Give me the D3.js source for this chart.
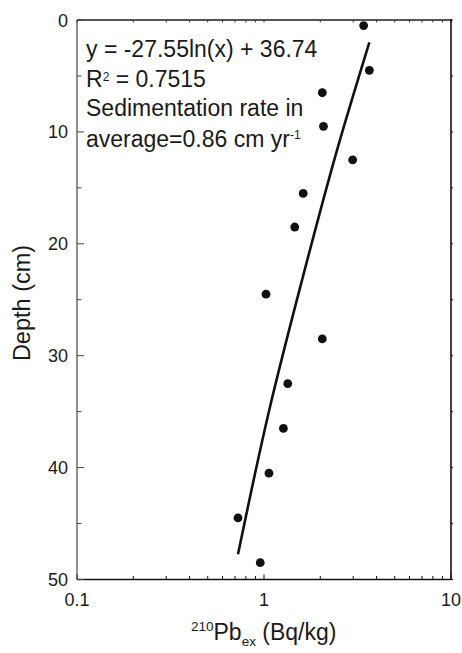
<!DOCTYPE html>
<html>
<head>
<meta charset="utf-8">
<script src="https://cdn.jsdelivr.net/npm/d3@7"></script>
<style>
	body { margin: 0; background: #fff; }
	svg text { font-family: "Liberation Sans", Arial, Helvetica, sans-serif; fill: #1a1a1a; }
</style>
</head>
<body>
<div id="chart"></div>
<script>
// 210Pb excess activity (Bq/kg) at each depth (cm)
var activity = [3.41, 3.66, 2.05, 2.08, 2.98, 1.62, 1.46, 1.025, 2.05, 1.34, 1.27, 1.063, 0.726, 0.955];
var depth    = [0.5, 4.5, 6.5, 9.5, 12.5, 15.5, 18.5, 24.5, 28.5, 32.5, 36.5, 40.5, 44.5, 48.5];

// fitted curve
var trendActivity = [3.66, 2.46, 1.60, 1.067, 0.726];
var trendDepth    = [2.0, 11.6, 23.2, 34.85, 47.75];

var xTickValues = [0.1, 1, 10];
var yTickValues = [0, 10, 20, 30, 40, 50];

var annotation = ["y = -27.55ln(x) + 36.74", "R", "Sedimentation rate in", "average=0.86 cm yr"];

(function() {
	var width = 462, height = 653;
	var left = 77, right = 451, top = 20, bottom = 579.5;

	var svg = d3.select('#chart').append('svg')
		.attr('width', width).attr('height', height);

	var x = d3.scaleLog().domain([0.1, 10]).range([left, right]);
	var y = d3.scaleLinear().domain([0, 50]).range([top, bottom]);

	// minor log ticks
	var logTicks = x.ticks();
	var minorDepth = d3.range(5, 50, 10);

	// bottom axis
	var gx = svg.append('g').attr('transform', 'translate(0,' + bottom + ')');
	gx.append('line').attr('x1', left).attr('x2', right).attr('stroke', '#111').attr('stroke-width', 1.3);
	gx.selectAll('line.t').data(logTicks).enter().append('line')
		.attr('class', 't')
		.attr('x1', function(d) { return x(d); })
		.attr('x2', function(d) { return x(d); })
		.attr('y1', 0)
		.attr('y2', function(d) { return xTickValues.indexOf(d) >= 0 ? -5 : -3.5; })
		.attr('stroke', '#111').attr('stroke-width', 1);
	gx.selectAll('text').data(xTickValues).enter().append('text')
		.attr('x', function(d) { return x(d); })
		.attr('y', 26)
		.attr('text-anchor', 'middle')
		.attr('font-size', 18)
		.text(function(d) { return d; });

	// top axis
	var gt = svg.append('g').attr('transform', 'translate(0,' + top + ')');
	gt.append('line').attr('x1', left).attr('x2', right).attr('stroke', '#555').attr('stroke-width', 1.8);
	gt.selectAll('line.t').data(logTicks).enter().append('line')
		.attr('class', 't')
		.attr('x1', function(d) { return x(d); })
		.attr('x2', function(d) { return x(d); })
		.attr('y1', 0).attr('y2', 2.5)
		.attr('stroke', '#333').attr('stroke-width', 1);

	// left axis
	var gy = svg.append('g').attr('transform', 'translate(' + left + ',0)');
	gy.append('line').attr('y1', top).attr('y2', bottom).attr('stroke', '#444').attr('stroke-width', 1.2);
	gy.selectAll('line.major').data(yTickValues).enter().append('line')
		.attr('class', 'major')
		.attr('x1', 0).attr('x2', 7)
		.attr('y1', function(d) { return y(d); })
		.attr('y2', function(d) { return y(d); })
		.attr('stroke', '#444').attr('stroke-width', 1);
	gy.selectAll('line.minor').data(minorDepth).enter().append('line')
		.attr('class', 'minor')
		.attr('x1', 0).attr('x2', 4.5)
		.attr('y1', function(d) { return y(d); })
		.attr('y2', function(d) { return y(d); })
		.attr('stroke', '#444').attr('stroke-width', 1);
	gy.selectAll('text').data(yTickValues).enter().append('text')
		.attr('x', -9)
		.attr('y', function(d) { return y(d) + 6.5; })
		.attr('text-anchor', 'end')
		.attr('font-size', 18)
		.text(function(d) { return d; });

	// right axis
	var gr = svg.append('g').attr('transform', 'translate(' + right + ',0)');
	gr.append('line').attr('y1', top - 1).attr('y2', bottom).attr('stroke', '#111').attr('stroke-width', 1.6);
	gr.selectAll('line.t').data(yTickValues.concat(minorDepth)).enter().append('line')
		.attr('class', 't')
		.attr('x1', 0).attr('x2', 2)
		.attr('y1', function(d) { return y(d); })
		.attr('y2', function(d) { return y(d); })
		.attr('stroke', '#111').attr('stroke-width', 1);

	// fitted curve
	var line = d3.line()
		.x(function(d, i) { return x(trendActivity[i]); })
		.y(function(d, i) { return y(trendDepth[i]); })
		.curve(d3.curveMonotoneY);
	svg.append('path')
		.attr('d', line(trendDepth))
		.attr('fill', 'none').attr('stroke', '#111').attr('stroke-width', 2.6);

	// measured points
	svg.selectAll('circle').data(depth).enter().append('circle')
		.attr('cx', function(d, i) { return x(activity[i]); })
		.attr('cy', function(d) { return y(d); })
		.attr('r', 4.4)
		.attr('fill', '#111');

	// annotation
	var ann = svg.append('g').attr('font-size', 23);
	ann.append('text').attr('x', 86).attr('y', 57).text(annotation[0]);
	var r2 = ann.append('text').attr('x', 86).attr('y', 87);
	r2.append('tspan').text(annotation[1]);
	r2.append('tspan').attr('font-size', 12).attr('dy', -6).text('2');
	r2.append('tspan').attr('dy', 6).text(' = 0.7515');
	ann.append('text').attr('x', 86).attr('y', 116).text(annotation[2]);
	var av = ann.append('text').attr('x', 86).attr('y', 147);
	av.append('tspan').text(annotation[3]);
	av.append('tspan').attr('font-size', 12).attr('dy', -8).text('-1');

	// axis titles
	var xt = svg.append('text').attr('x', 191).attr('y', 640).attr('font-size', 23);
	xt.append('tspan').attr('font-size', 13.5).attr('dy', -9).text('210');
	xt.append('tspan').attr('dy', 9).text('Pb');
	xt.append('tspan').attr('font-size', 13.5).attr('dy', 6).text('ex');
	xt.append('tspan').attr('dy', -6).text(' (Bq/kg)');

	svg.append('text')
		.attr('transform', 'translate(30,' + 303 + ') rotate(-90)')
		.attr('text-anchor', 'middle')
		.attr('font-size', 23.5)
		.text('Depth (cm)');
})();
</script>
</body>
</html>
